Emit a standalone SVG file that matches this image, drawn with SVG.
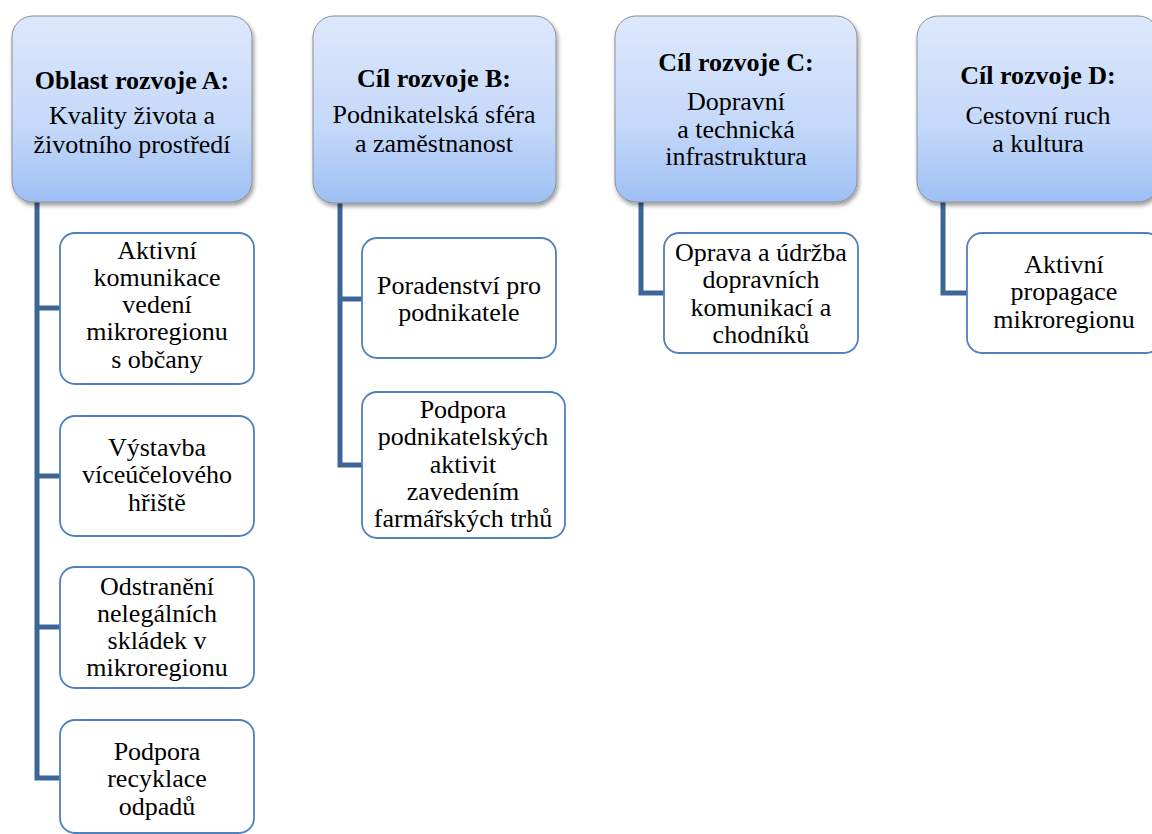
<svg xmlns="http://www.w3.org/2000/svg" width="1152" height="834" viewBox="0 0 1152 834">
<defs>
<linearGradient id="hg" x1="0" y1="0" x2="0" y2="1">
<stop offset="0" stop-color="#dde8fb"/>
<stop offset="0.6" stop-color="#c4d8f9"/>
<stop offset="1" stop-color="#9ebff4"/>
</linearGradient>
<filter id="sh" x="-10%" y="-10%" width="125%" height="125%">
<feDropShadow dx="1.5" dy="3" stdDeviation="2" flood-color="#000" flood-opacity="0.4"/>
</filter>
<style>
.hd{fill:url(#hg);stroke:#8a8f98;stroke-width:1;filter:url(#sh)}
.ch{fill:#fff;stroke:#4f81bd;stroke-width:1.8}
.cn{fill:none;stroke:#3d6597;stroke-width:5;stroke-linejoin:miter}
text{font-family:"Liberation Serif","Times New Roman",serif;font-size:26px;fill:#000;text-anchor:middle}
.b{font-weight:bold}
</style>
</defs>
<rect width="1152" height="834" fill="#fff"/>
<g id="connectors">
<path class="cn" d="M37,202 V778 H60 M37,308 H60 M37,476 H60 M37,627 H60"/>
<path class="cn" d="M340,203 V465 H362 M340,299 H362"/>
<path class="cn" d="M641,202 V293 H664"/>
<path class="cn" d="M943,202 V293 H967"/>
</g>
<g id="headerA">
<rect class="hd" x="12" y="16" width="240" height="186" rx="21"/>
<text class="b" x="132" y="89">Oblast rozvoje A:</text>
<text x="132" y="124">Kvality života a</text>
<text x="132" y="153">životního prostředí</text>
</g>
<g id="headerB">
<rect class="hd" x="313" y="16" width="243" height="187" rx="21"/>
<text class="b" x="434" y="87">Cíl rozvoje B:</text>
<text x="434" y="123">Podnikatelská sféra</text>
<text x="434" y="152">a zaměstnanost</text>
</g>
<g id="headerC">
<rect class="hd" x="615" y="16" width="242" height="186" rx="21"/>
<text class="b" x="736" y="71">Cíl rozvoje C:</text>
<text x="736" y="110">Dopravní</text>
<text x="736" y="137.5">a technická</text>
<text x="736" y="165">infrastruktura</text>
</g>
<g id="headerD">
<rect class="hd" x="917" y="16" width="242" height="186" rx="21"/>
<text class="b" x="1038" y="84">Cíl rozvoje D:</text>
<text x="1038" y="124">Cestovní ruch</text>
<text x="1038" y="152">a kultura</text>
</g>
<g id="a1">
<rect class="ch" x="60" y="233" width="194" height="151" rx="15"/>
<text x="157" y="258.5">Aktivní</text>
<text x="157" y="285.8">komunikace</text>
<text x="157" y="313.1">vedení</text>
<text x="157" y="340.4">mikroregionu</text>
<text x="157" y="367.7">s občany</text>
</g>
<g id="a2">
<rect class="ch" x="60" y="416" width="194" height="120" rx="15"/>
<text x="157" y="456">Výstavba</text>
<text x="157" y="483.3">víceúčelového</text>
<text x="157" y="510.6">hřiště</text>
</g>
<g id="a3">
<rect class="ch" x="60" y="567" width="194" height="121" rx="15"/>
<text x="157" y="594.5">Odstranění</text>
<text x="157" y="621.8">nelegálních</text>
<text x="157" y="649.1">skládek v</text>
<text x="157" y="676.4">mikroregionu</text>
</g>
<g id="a4">
<rect class="ch" x="60" y="720" width="194" height="113" rx="15"/>
<text x="157" y="760">Podpora</text>
<text x="157" y="787.3">recyklace</text>
<text x="157" y="814.6">odpadů</text>
</g>
<g id="b1">
<rect class="ch" x="362" y="238" width="194" height="120" rx="15"/>
<text x="459" y="293.5">Poradenství pro</text>
<text x="459" y="320.8">podnikatele</text>
</g>
<g id="b2">
<rect class="ch" x="362" y="392" width="203" height="146" rx="15"/>
<text x="463" y="418">Podpora</text>
<text x="463" y="445.3">podnikatelských</text>
<text x="463" y="472.6">aktivit</text>
<text x="463" y="499.9">zavedením</text>
<text x="463" y="527.2">farmářských trhů</text>
</g>
<g id="c1">
<rect class="ch" x="664" y="233" width="194" height="120" rx="15"/>
<text x="761" y="261">Oprava a údržba</text>
<text x="761" y="288.3">dopravních</text>
<text x="761" y="315.6">komunikací a</text>
<text x="761" y="342.9">chodníků</text>
</g>
<g id="d1">
<rect class="ch" x="967" y="233" width="194" height="120" rx="15"/>
<text x="1064" y="273">Aktivní</text>
<text x="1064" y="300.3">propagace</text>
<text x="1064" y="327.6">mikroregionu</text>
</g>
</svg>
